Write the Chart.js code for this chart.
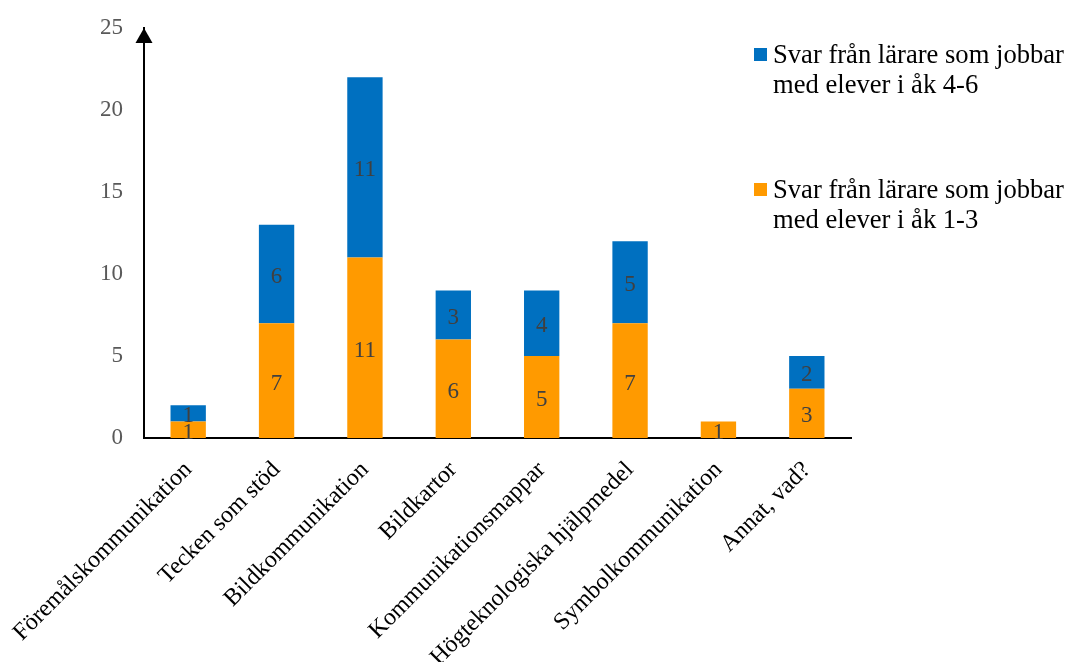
<!DOCTYPE html>
<html>
<head>
<meta charset="utf-8">
<script src="https://cdn.jsdelivr.net/npm/chart.js@4/dist/chart.umd.min.js"></script>
<style>
  html, body { margin: 0; padding: 0; background: #fff; }
  #wrap { position: relative; width: 1068px; height: 662px; }
  #legend { position: absolute; left: 754px; top: 39px; font-family: "Liberation Serif", "Times New Roman", serif; font-size: 26.6px; color: #000; line-height: 30px; white-space: nowrap; }
  .item { position: relative; padding-left: 19px; margin-bottom: 75px; }
  .sw { position: absolute; left: 0; top: 9px; width: 13px; height: 13px; }
</style>
</head>
<body>
<div id="wrap">
  <canvas id="chart" width="1068" height="662"></canvas>
  <div id="legend"></div>
</div>
<script>
// Answers per method, split by the grade band the teacher works with.
const CATEGORIES = [
  'Föremålskommunikation', 'Tecken som stöd', 'Bildkommunikation', 'Bildkartor',
  'Kommunikationsmappar', 'Högteknologiska hjälpmedel', 'Symbolkommunikation', 'Annat, vad?'
];
const AK_1_3 = [1, 7, 11, 6, 5, 7, 1, 3];
const AK_4_6 = [1, 6, 11, 3, 4, 5, 0, 2];
const Y_TICKS = [0, 5, 10, 15, 20, 25];

const LABEL_1_3 = ['Svar från lärare som jobbar', 'med elever i åk 1-3'];
const LABEL_4_6 = ['Svar från lärare som jobbar', 'med elever i åk 4-6'];

const ORANGE = '#FF9A00';
const BLUE = '#0070C0';
const SERIF = '"Liberation Serif", "Times New Roman", serif';

// Value labels centred in each stacked segment (zeros are left out)
const segmentLabels = {
  id: 'segmentLabels',
  afterDatasetsDraw(chart) {
    const ctx = chart.ctx;
    ctx.save();
    ctx.font = '23px ' + SERIF;
    ctx.fillStyle = '#404040';
    ctx.textAlign = 'center';
    ctx.textBaseline = 'middle';
    chart.data.datasets.forEach((ds, i) => {
      chart.getDatasetMeta(i).data.forEach((bar, j) => {
        const v = ds.data[j];
        if (!v) return;
        ctx.fillText(String(v), bar.x, (bar.y + bar.base) / 2 + 3);
      });
    });
    ctx.restore();
  }
};

// Arrow head on top of the value axis
const axisArrow = {
  id: 'axisArrow',
  afterDraw(chart) {
    const {ctx, chartArea} = chart;
    const x = chartArea.left;
    ctx.save();
    ctx.fillStyle = '#000';
    ctx.beginPath();
    ctx.moveTo(x, chartArea.top);
    ctx.lineTo(x - 8.5, chartArea.top + 15);
    ctx.lineTo(x + 8.5, chartArea.top + 15);
    ctx.closePath();
    ctx.fill();
    ctx.restore();
  }
};

// Drop the automatic label padding so the plot area stays where the layout padding puts it
function noAutoPadding(axis) {
  axis.paddingTop = 0;
  axis.paddingBottom = 0;
  axis.paddingLeft = 0;
  axis.paddingRight = 0;
}

new Chart(document.getElementById('chart').getContext('2d'), {
  type: 'bar',
  data: {
    labels: CATEGORIES,
    datasets: [
      {label: LABEL_1_3.join(' '), data: AK_1_3, backgroundColor: ORANGE},
      {label: LABEL_4_6.join(' '), data: AK_4_6, backgroundColor: BLUE}
    ]
  },
  options: {
    responsive: false,
    animation: false,
    barPercentage: 0.4,
    categoryPercentage: 1,
    layout: {padding: {top: 28, right: 217, left: 0, bottom: 0}},
    plugins: {
      legend: {display: false},
      tooltip: {enabled: false}
    },
    scales: {
      x: {
        stacked: true,
        grid: {display: false, drawTicks: false},
        border: {color: '#000', width: 2},
        ticks: {
          color: '#000',
          font: {family: SERIF, size: 24},
          minRotation: 45,
          maxRotation: 45,
          autoSkip: false,
          padding: 18
        },
        afterFit: axis => { axis.height = 224; noAutoPadding(axis); }
      },
      y: {
        stacked: true,
        min: 0,
        max: 25,
        afterBuildTicks: axis => { axis.ticks = Y_TICKS.map(v => ({value: v})); },
        grid: {display: false, drawTicks: false},
        border: {color: '#000', width: 2},
        ticks: {
          color: '#595959',
          font: {family: SERIF, size: 23},
          padding: 21
        },
        afterFit: axis => { axis.width = 144; noAutoPadding(axis); }
      }
    }
  },
  plugins: [segmentLabels, axisArrow]
});

// Two-line legend entries, 4-6 listed first
const legend = document.getElementById('legend');
[[BLUE, LABEL_4_6], [ORANGE, LABEL_1_3]].forEach(([color, lines]) => {
  const item = document.createElement('div');
  item.className = 'item';
  item.innerHTML = '<span class="sw" style="background:' + color + '"></span>' + lines.join('<br>');
  legend.appendChild(item);
});
</script>
</body>
</html>
